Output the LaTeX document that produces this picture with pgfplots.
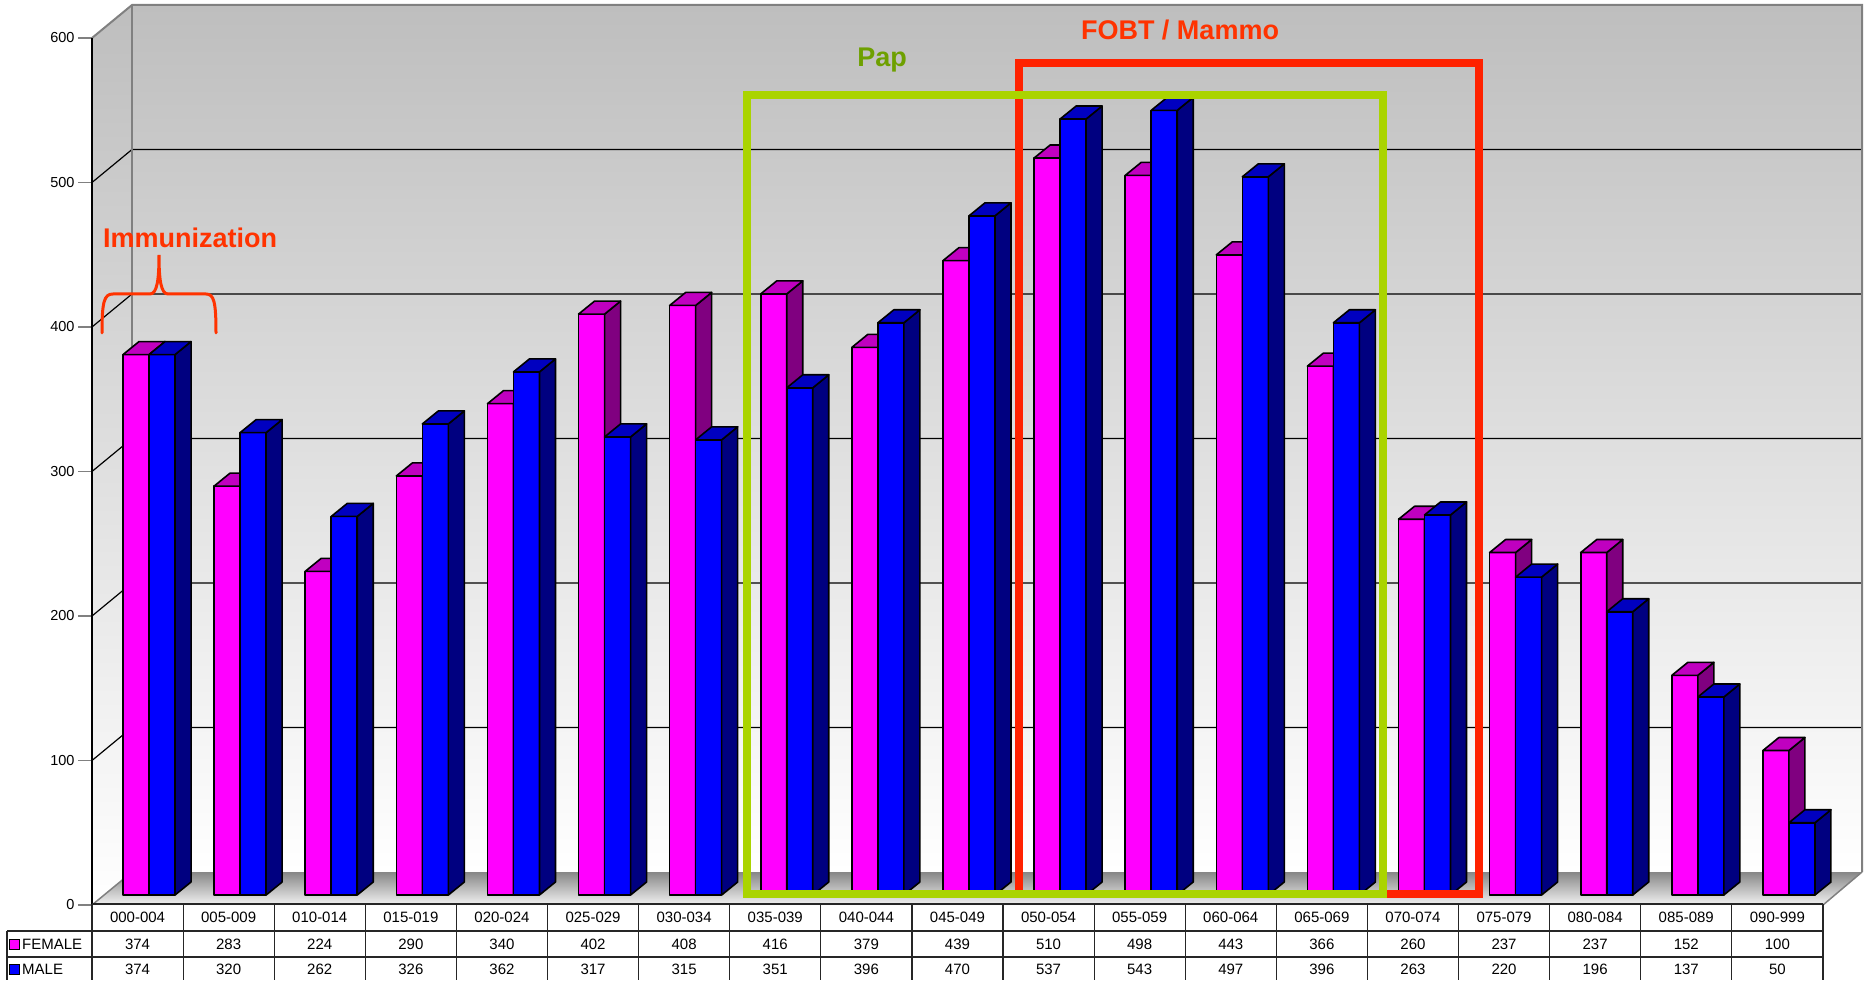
\documentclass[border=0pt]{standalone}
\usepackage{fontspec}
\setmainfont{Liberation Sans}
\usepackage{pgfplots}
\usepackage{pgfplotstable}
\pgfplotsset{compat=1.18}

\definecolor{pinkF}{RGB}{255,0,255}
\definecolor{pinkT}{RGB}{192,0,192}
\definecolor{pinkS}{RGB}{128,0,128}
\definecolor{blueF}{RGB}{0,0,255}
\definecolor{blueT}{RGB}{0,0,192}
\definecolor{blueS}{RGB}{0,0,128}
\definecolor{wallTop}{RGB}{190,190,190}
\definecolor{floorBack}{RGB}{135,135,135}
\definecolor{floorFront}{RGB}{242,242,242}
\definecolor{edgegray}{RGB}{128,128,128}
\definecolor{annRed}{RGB}{255,51,0}
\definecolor{boxRed}{RGB}{255,34,0}
\definecolor{boxGreen}{RGB}{170,212,0}
\definecolor{papGreen}{RGB}{110,160,0}

\pgfplotstableread{
idx female male
0 374 374
1 283 320
2 224 262
3 290 326
4 340 362
5 402 317
6 408 315
7 416 351
8 379 396
9 439 470
10 510 537
11 498 543
12 443 497
13 366 396
14 260 263
15 237 220
16 237 196
17 152 137
18 100 50
}\agedata

% 3D bar geometry (in data units)
\def\ox{0.1262}
\def\oy{6.92}
\def\bw{0.2854}
\def\bx{0.1756}
\def\by{9.0}

\pgfplotsset{barface/.style={draw=black, line width=1.6pt, line join=round}}

\newcommand\barpoly[5]{%
  \pgfmathsetmacro\bpXa{#1}%
  \pgfmathsetmacro\bpXb{#1+\bw}%
  \pgfmathsetmacro\bpXc{#1+\bw+\bx}%
  \pgfmathsetmacro\bpXd{#1+\bx}%
  \pgfmathsetmacro\bpYa{\oy}%
  \pgfmathsetmacro\bpYb{\oy+\by}%
  \pgfmathsetmacro\bpYc{#2+\oy}%
  \pgfmathsetmacro\bpYd{#2+\oy+\by}%
  \edef\bptmp{%
    \noexpand\addplot[barface, fill=#3] coordinates {(\bpXa,\bpYa) (\bpXb,\bpYa) (\bpXb,\bpYc) (\bpXa,\bpYc)} --cycle;
    \noexpand\addplot[barface, fill=#4] coordinates {(\bpXb,\bpYa) (\bpXc,\bpYb) (\bpXc,\bpYd) (\bpXb,\bpYc)} --cycle;
    \noexpand\addplot[barface, fill=#5] coordinates {(\bpXa,\bpYc) (\bpXb,\bpYc) (\bpXc,\bpYd) (\bpXd,\bpYd)} --cycle;
  }\bptmp
}

\newcommand\tabfont{\fontsize{15}{17}\selectfont}
\newcommand\annfont{\fontsize{27}{30}\selectfont\bfseries}

\begin{document}
\begin{tikzpicture}[x=1pt,y=1pt]
\path[use as bounding box] (0,0) rectangle (1865,980);

% walls and floor
\shade[top color=wallTop, bottom color=white] (132,108) rectangle (1862,975);
\shade[top color=wallTop, bottom color=white] (92,75) -- (92,942) -- (132,975) -- (132,108) -- cycle;
\shade[top color=floorBack, bottom color=floorFront] (92,75) -- (1823,75) -- (1862,108) -- (132,108) -- cycle;

% grid lines
\foreach \v in {100,200,300,400,500} {
  \draw[black, line width=1.2pt] (92,{75+1.445*\v}) -- (132,{108+1.445*\v}) -- (1862,{108+1.445*\v});
}
% wall edges
\draw[edgegray, line width=2pt] (92,942) -- (132,975) -- (1862,975) -- (1862,108);
\draw[edgegray, line width=2pt] (132,975) -- (132,108);
\draw[edgegray, line width=1.5pt] (92,75) -- (132,108);
\draw[edgegray, line width=1.5pt] (1823,75) -- (1862,108);

\begin{axis}[
  at={(92pt,75pt)}, anchor=south west,
  scale only axis, width=1731pt, height=867pt,
  xmin=-0.5, xmax=18.5, ymin=0, ymax=600,
  clip=false,
  axis x line=none, axis y line*=left,
  y axis line style={black, line width=1.3pt},
  ytick={0,100,200,300,400,500,600}, xtick=\empty,
  tick align=outside, major tick length=14pt,
  ytick style={draw=edgegray, line width=1.6pt},
  /pgf/number format/assume math mode=true,
  yticklabel style={font=\fontsize{14.5}{16}\selectfont},
]
\pgfplotsinvokeforeach{0,...,18}{
  \pgfplotstablegetelem{#1}{female}\of\agedata
  \let\fval\pgfplotsretval
  \pgfplotstablegetelem{#1}{male}\of\agedata
  \let\mval\pgfplotsretval
  \pgfmathsetmacro\xp{#1+\ox-\bw}
  \pgfmathsetmacro\xm{#1+\ox}
  \barpoly{\xp}{\fval}{pinkF}{pinkS}{pinkT}
  \barpoly{\xm}{\mval}{blueF}{blueS}{blueT}
}
\end{axis}

% annotations
\draw[boxRed, line width=8pt] (1019,86) rectangle (1479,917);
\draw[boxGreen, line width=8pt] (747,86) rectangle (1383,885);
\node[anchor=base, text=annRed, font=\annfont] at (1180,940) {FOBT / Mammo};
\node[anchor=base, text=papGreen, font=\annfont] at (882,913) {Pap};
\node[anchor=base, text=annRed, font=\annfont] at (190,732) {Immunization};
\draw[annRed, line width=3pt, line cap=round]
  (102,647) .. controls (102,678) and (104,686) .. (113,686) -- (150,686)
  .. controls (157,686) and (159,700) .. (159,725)
  .. controls (159,700) and (161,686) .. (168,686) -- (206,686)
  .. controls (214,686) and (216,678) .. (216,647);

% data table
\draw[black!85, line width=1.2pt] (92,76) -- (1823,76);
\draw[black!85, line width=1.2pt] (7,49) -- (1823,49);
\draw[black!85, line width=1.2pt] (7,23) -- (1823,23);
\draw[black!85, line width=1.2pt] (7,49) -- (7,0);
\foreach \k in {0,...,19} {
  \draw[black!85, line width=1.2pt] ({92+91.1*\k},76) -- ({92+91.1*\k},0);
}
\foreach \nm [count=\i from 0] in {000-004,005-009,010-014,015-019,020-024,025-029,030-034,035-039,040-044,045-049,050-054,055-059,060-064,065-069,070-074,075-079,080-084,085-089,090-999} {
  \node[font=\tabfont] at ({137.55+91.1*\i},63) {\nm};
  \pgfplotstablegetelem{\i}{female}\of\agedata
  \node[font=\tabfont] at ({137.55+91.1*\i},36) {\pgfplotsretval};
  \pgfplotstablegetelem{\i}{male}\of\agedata
  \node[font=\tabfont] at ({137.55+91.1*\i},11) {\pgfplotsretval};
}
\draw[fill=pinkF, line width=1pt] (9,31) rectangle (19,41);
\node[anchor=west, font=\tabfont, inner sep=0pt] at (22,36) {FEMALE};
\draw[fill=blueF, line width=1pt] (9,6) rectangle (19,16);
\node[anchor=west, font=\tabfont, inner sep=0pt] at (22,11) {MALE};
\end{tikzpicture}
\end{document}
